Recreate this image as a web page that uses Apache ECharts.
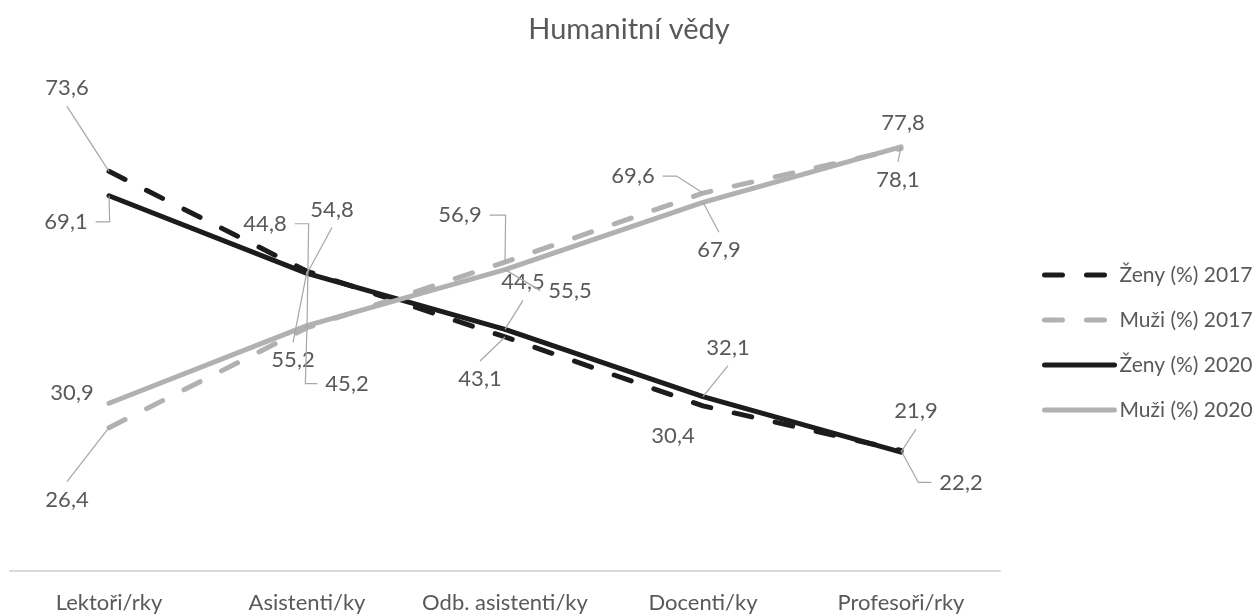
<!DOCTYPE html>
<html>
<head>
<meta charset="utf-8">
<script src="https://cdn.jsdelivr.net/npm/echarts@6/dist/echarts.min.js"></script>
<style>
  html, body { margin: 0; padding: 0; background: #fff; }
  #chart { width: 1258px; height: 615px; }
</style>
</head>
<body>
<div id="chart"></div>
<script>
// Podíl žen a mužů podle pozice – humanitní vědy
const categories = ['Lektoři/rky', 'Asistenti/ky', 'Odb. asistenti/ky', 'Docenti/ky', 'Profesoři/rky'];
const seriesNames = ['Ženy (%) 2017', 'Muži (%) 2017', 'Ženy (%) 2020', 'Muži (%) 2020'];
const zeny2017 = [73.6, 55.2, 43.1, 30.4, 22.2];
const muzi2017 = [26.4, 44.8, 56.9, 69.6, 77.8];
const zeny2020 = [69.1, 54.8, 44.5, 32.1, 21.9];
const muzi2020 = [30.9, 45.2, 55.5, 67.9, 78.1];

const FONT = 'Lato, "Open Sans", sans-serif';
const TEXT = '#595959';
const DARK = '#1c1c1c';
const LIGHT = '#b1b1b1';
const DASH = [18, 24];

// Label placement: [dx, dy] from the point, edge the leader leaves from, straight run before turning
const labelPlacement = [
  [[-42, -83, 'b', 0], [-14, 89, 't', 0], [-25, 42, 't', 0], [-30, 30, null, 0], [60, 32, 'l', 13]],
  [[-42, 72, 't', 0], [-42, -104, 'r', 14], [-45, -47, 'r', 16], [-70, -17, 'r', 14], [2, -26, null, 0]],
  [[-43, 26, 'r', 14], [25, -64, 'b', 0], [18, -47, 'b', 0], [25, -49, 'b', 0], [15, -41, 'b', 0]],
  [[-37, -10, null, 0], [40, 58, 'l', 12], [65, 21, 'l', 0], [16, 48, 't', 0], [-3, 33, 't', 0]]
];

const LABEL_SIZE = 22;
const measureCtx = document.createElement('canvas').getContext('2d');
measureCtx.font = LABEL_SIZE + 'px ' + FONT;
function textWidth(t) { return measureCtx.measureText(t).width; }
function fmt(v) { return v.toFixed(1).replace('.', ','); }

function lineSeries(name, values, color, dashed) {
  return {
    type: 'line',
    name: name,
    data: values,
    showSymbol: false,
    symbol: 'circle',
    silent: true,
    lineStyle: { color: color, width: 5, type: dashed ? DASH : 'solid', cap: 'round', join: 'round' },
    itemStyle: { color: color },
    z: 2
  };
}

function labelSeries(values, places) {
  return {
    type: 'custom',
    coordinateSystem: 'cartesian2d',
    data: values.map((v, i) => [i, v]),
    encode: { x: 0, y: 1 },
    silent: true,
    clip: false,
    z: 5,
    renderItem: function (params, api) {
      const p = api.coord([api.value(0), api.value(1)]);
      const pl = places[params.dataIndex];
      const cx = p[0] + pl[0];
      const cy = p[1] + pl[1];
      const text = fmt(api.value(1));
      const children = [{
        type: 'text',
        style: {
          x: cx, y: cy, text: text, align: 'center', verticalAlign: 'middle',
          fill: TEXT, fontSize: LABEL_SIZE, fontFamily: FONT
        }
      }];
      const side = pl[2];
      if (side) {
        const hw = textWidth(text) / 2 + 8;
        const hh = 18;
        let s, e;
        if (side === 'l') { s = [cx - hw, cy]; e = [s[0] - pl[3], cy]; }
        else if (side === 'r') { s = [cx + hw, cy]; e = [s[0] + pl[3], cy]; }
        else if (side === 't') { s = [cx, cy - hh]; e = [cx, s[1] - pl[3]]; }
        else { s = [cx, cy + hh]; e = [cx, s[1] + pl[3]]; }
        children.push({
          type: 'polyline',
          shape: { points: [s, e, p] },
          style: { stroke: '#a6a6a6', lineWidth: 1.2, fill: null }
        });
      }
      return { type: 'group', children: children };
    }
  };
}

const chart = echarts.init(document.getElementById('chart'), null, { renderer: 'canvas' });
chart.setOption({
  animation: false,
  backgroundColor: '#ffffff',
  title: {
    text: 'Humanitní vědy',
    left: 'center',
    top: 10,
    textStyle: { fontFamily: FONT, fontSize: 29, fontWeight: 'normal', color: TEXT }
  },
  legend: {
    orient: 'vertical',
    left: 1042,
    top: 263,
    padding: 0,
    itemWidth: 70,
    itemHeight: 14,
    itemGap: 21,
    data: seriesNames,
    selectedMode: false,
    itemStyle: { opacity: 0 },
    lineStyle: { width: 'inherit' },
    textStyle: { fontFamily: FONT, fontSize: 21, color: TEXT, lineHeight: 24 }
  },
  grid: { left: 10, right: 258, top: 28, bottom: 44 },
  xAxis: {
    type: 'category',
    data: categories,
    boundaryGap: true,
    axisLine: { show: true, lineStyle: { color: '#d9d9d9', width: 2 } },
    axisTick: { show: false },
    axisLabel: { fontFamily: FONT, fontSize: 22, color: TEXT, margin: 21, interval: 0 },
    splitLine: { show: false }
  },
  yAxis: {
    type: 'value',
    min: 0,
    max: 100,
    show: false,
    splitLine: { show: false }
  },
  series: [
    lineSeries(seriesNames[0], zeny2017, DARK, true),
    lineSeries(seriesNames[1], muzi2017, LIGHT, true),
    lineSeries(seriesNames[2], zeny2020, DARK, false),
    lineSeries(seriesNames[3], muzi2020, LIGHT, false),
    labelSeries(zeny2017, labelPlacement[0]),
    labelSeries(muzi2017, labelPlacement[1]),
    labelSeries(zeny2020, labelPlacement[2]),
    labelSeries(muzi2020, labelPlacement[3])
  ]
});
</script>
</body>
</html>
